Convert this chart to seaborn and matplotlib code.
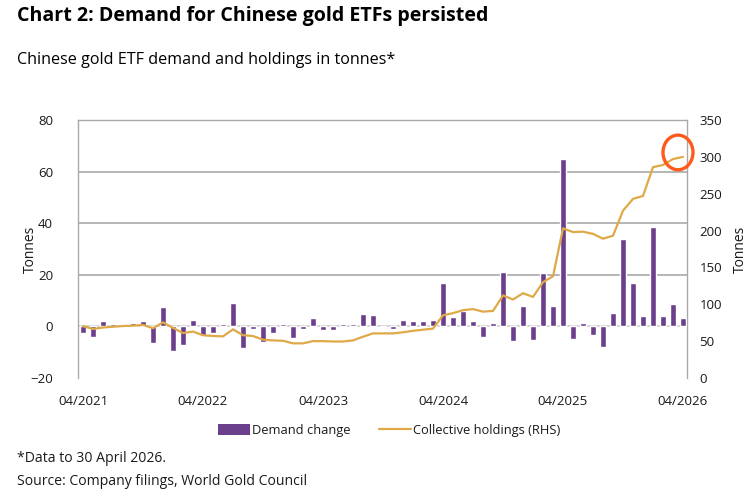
import matplotlib
matplotlib.use("Agg")
import matplotlib.pyplot as plt
from matplotlib.lines import Line2D
from matplotlib.patches import Ellipse, Patch
import numpy as np
import seaborn as sns

# monthly series, 04/2021 .. 04/2026
DEMAND = [-2.6, -4.3, 2.1, 1.1, 1.1, 1.5, 1.9, -6.3, 7.5, -9.5,
          -7.3, 2.6, -3.9, -2.6, 0.8, 9.2, -8.3, -1.0, -6.0, -2.5,
          1.0, -4.4, -1.0, 3.4, -1.3, -1.3, 0.9, 0.9, 4.7, 4.3,
          0.0, -1.0, 2.5, 2.0, 2.0, 2.5, 17.0, 3.5, 6.0, 2.0,
          -4.0, 1.5, 21.0, -5.5, 7.8, -5.2, 20.8, 8.0, 65.0, -5.0,
          1.3, -3.3, -8.0, 5.2, 34.0, 16.8, 4.1, 38.5, 3.9, 8.7, 3.3]
HOLDINGS = [70.5, 66.5, 68.5, 69.5, 70.5, 71, 72, 67.5, 75.5, 68,
            61, 63, 58, 57, 56.5, 66, 58, 57, 52, 51,
            50.5, 47, 47, 50, 50, 49.5, 49.5, 51, 56, 60.5,
            60.5, 60.5, 62, 64, 65.5, 67, 85, 88, 92, 93.5,
            90, 91, 112, 106.5, 115, 110, 130, 138, 203, 198,
            198.5, 195.5, 189, 193, 227, 243, 247, 286, 289, 297, 300]
XTICK_LABELS = ["04/2021", "04/2022", "04/2023", "04/2024", "04/2025", "04/2026"]
LEFT_TICKS = [-20, 0, 20, 40, 60, 80]
RIGHT_TICKS = [0, 50, 100, 150, 200, 250, 300, 350]

PURPLE = "#6c3f8c"
GOLD = "#dfa948"
GRID = "#a9a9a9"
TEXT = "#1a1a1a"

sns.set_theme(style="white")
plt.rcParams["font.family"] = ["Open Sans", "DejaVu Sans"]

months = np.arange(len(DEMAND))

fig = plt.figure(figsize=(7.54, 4.98), dpi=100)
ax = fig.add_axes([78 / 754, 1 - 378 / 498, (687 - 78) / 754, (378 - 120) / 498])

sns.barplot(x=months, y=DEMAND, native_scale=True, width=0.62, color=PURPLE,
            saturation=1, ax=ax, zorder=3)
ax.set_xlim(-0.5, 60.4)
ax.set_ylim(-20, 80)
ax.set_yticks(LEFT_TICKS)
ax.set_xticks(months[::12])
ax.set_xticklabels(XTICK_LABELS)
for v in LEFT_TICKS[2:]:
    ax.axhline(v, color=GRID, lw=1.2, zorder=1)
ax.axhline(0, color="#cfcfcf", lw=1.2, zorder=2)
ax.tick_params(axis="x", length=0, pad=12, labelsize=9.5, colors=TEXT)
ax.tick_params(axis="y", length=0, pad=18, labelsize=9.5, colors=TEXT)
ax.set_ylabel("Tonnes", fontsize=10, color=TEXT)
ax.yaxis.set_label_coords(-0.066, 0.5)
for side in ["left", "right", "top"]:
    ax.spines[side].set_color(GRID)
    ax.spines[side].set_linewidth(1.0)
ax.spines["bottom"].set_visible(False)

ax2 = ax.twinx()
sns.lineplot(x=months, y=HOLDINGS, color=GOLD, lw=1.6, ax=ax2, zorder=4)
ax2.set_ylim(0, 350)
ax2.set_yticks(RIGHT_TICKS)
ax2.tick_params(axis="y", length=0, pad=9, labelsize=9.5, colors=TEXT)
ax2.set_ylabel("Tonnes", fontsize=10, color=TEXT, labelpad=8)
for side in ax2.spines:
    ax2.spines[side].set_visible(False)

# highlight around the latest holdings point
ax2.add_patch(Ellipse((months[-1] - 0.5, HOLDINGS[-1] + 6), width=3.0, height=47,
                      fill=False, edgecolor="#ff5a1c", lw=2.4, zorder=5, clip_on=False))

handles = [Patch(facecolor=PURPLE, edgecolor="none"),
           Line2D([0], [0], color=GOLD, lw=1.6)]
fig.legend(handles, ["Demand change", "Collective holdings (RHS)"],
           loc="center", bbox_to_anchor=(0.516, 0.135), ncol=2, frameon=False,
           fontsize=9.3, handlelength=2.5, handleheight=0.9, handletextpad=0.15,
           columnspacing=2.2, labelcolor=TEXT)

fig.text(0.0225, 0.967, "Chart 2: Demand for Chinese gold ETFs persisted",
         fontsize=14.1, fontweight="bold", color="black", va="center")
fig.text(0.0225, 0.879, "Chinese gold ETF demand and holdings in tonnes*",
         fontsize=11.6, color="black", va="center")
fig.text(0.0225, 0.080, "*Data to 30 April 2026.", fontsize=10.1, color=TEXT, va="center")
fig.text(0.0225, 0.034, "Source: Company filings, World Gold Council",
         fontsize=10.1, color=TEXT, va="center")

fig.savefig("out.png", dpi=100)
